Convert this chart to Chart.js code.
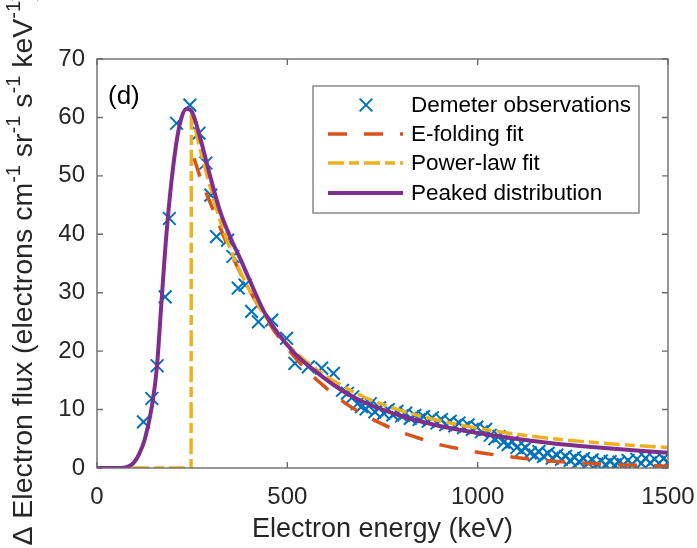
<!DOCTYPE html>
<html>
<head>
<meta charset="utf-8">
<script src="https://cdn.jsdelivr.net/npm/chart.js@4.4.0/dist/chart.umd.min.js"></script>
<style>
  html, body { margin: 0; padding: 0; background: #fff; }
  #wrap { width: 697px; height: 548px; }
</style>
</head>
<body>
<div id="wrap"><canvas id="chart" width="697" height="548"></canvas></div>
<script>
// Demeter observations (keV, flux)
const obsEnergy = [122, 144, 158, 179, 190, 209, 244, 268, 286, 299, 314, 343, 357, 371, 389, 406, 424, 459, 498, 520, 555, 590, 621, 645, 658,
  672, 684, 695, 707, 718, 730, 742, 753, 765, 777, 788, 800, 811, 823, 835, 846, 858, 870, 881, 893, 905, 916, 928, 940, 951, 963, 975, 986, 998,
  1010, 1021, 1033, 1045, 1056, 1068, 1080, 1091, 1103, 1115, 1126, 1138, 1150, 1161, 1173, 1185, 1196, 1208, 1220, 1231, 1243, 1255, 1266, 1278,
  1290, 1301, 1313, 1325, 1336, 1348, 1360, 1371, 1383, 1395, 1406, 1418, 1430, 1441, 1453, 1465, 1476, 1488, 1500];
const obsFlux = [7.9, 11.9, 17.5, 29.3, 42.7, 59.0, 62.1, 57.3, 52.2, 46.7, 39.6, 39.0, 36.2, 30.8, 31.3, 26.8, 25.0, 25.3, 22.2, 17.9, 17.3, 17.1, 16.2, 13.3, 12.8,
  12.2, 11.0, 10.5, 10.1, 11.0, 9.6, 10.3, 9.4, 10.0, 9.1, 9.7, 8.9, 9.4, 8.5, 9.0, 8.3, 8.8, 8.0, 8.6, 7.7, 8.3, 7.4, 8.0, 7.2, 7.7, 6.9, 7.4, 6.6, 7.0,
  6.2, 6.6, 5.6, 5.0, 5.4, 4.4, 4.0, 4.5, 3.5, 3.0, 3.5, 2.6, 2.2, 2.8, 2.0, 2.5, 1.7, 2.2, 1.5, 2.0, 1.3, 1.8, 1.1, 1.6,
  0.9, 1.4, 0.7, 1.2, 0.6, 1.1, 0.5, 1.0, 0.6, 1.3, 0.6, 1.5, 0.8, 1.7, 0.9, 1.5, 0.8, 1.6, 1.0];

// E-folding fit
const efoldEnergy = [255, 275, 300, 350, 400, 450, 500, 550, 600, 650, 700, 750, 800, 850, 900, 950, 1000, 1100, 1200, 1300, 1400, 1500];
const efoldFlux = [53, 49, 45, 37, 30.5, 25, 20.5, 16.8, 13.8, 11.2, 9.2, 7.5, 6.1, 5.0, 4.0, 3.3, 2.7, 1.8, 1.15, 0.75, 0.5, 0.3];

// Power-law fit
const powerEnergy = [0, 247, 248, 260, 275, 300, 325, 350, 375, 400, 450, 500, 550, 600, 700, 800, 900, 1000, 1100, 1200, 1300, 1400, 1500];
const powerFlux = [0, 0, 61, 57.5, 53.5, 47.5, 42, 37.5, 33.8, 30.5, 25.2, 21.2, 18.2, 15.8, 12.2, 9.8, 8.1, 6.8, 5.8, 5.0, 4.4, 3.9, 3.5];

// Peaked distribution
const peakEnergy = [0, 60, 80, 95, 110, 126, 144, 157, 170, 183, 200, 218, 236, 249, 271, 297, 323, 350, 375, 402, 441, 511, 581, 650, 700, 800, 900, 1000, 1100, 1200, 1300, 1400, 1500];
const peakFlux = [0, 0, 0.2, 0.8, 2.3, 5, 10.5, 17, 29, 40.5, 51.5, 59, 61.5, 61, 56.5, 50, 44, 39.5, 36, 32, 26.5, 20.2, 16.2, 13.0, 11.3, 8.9, 7.2, 6.0, 5.0, 4.2, 3.6, 3.1, 2.6];

const xTicks = [0, 500, 1000, 1500];
const yTicks = [0, 10, 20, 30, 40, 50, 60, 70];

const seriesNames = ['Demeter observations', 'E-folding fit', 'Power-law fit', 'Peaked distribution'];

const BLUE = '#0072BD';
const ORANGE = '#D95319';
const YELLOW = '#EDB120';
const PURPLE = '#7E2F8E';
const TEXT = '#262626';
const AXIS = '#6b6b6b';
const FONT = '"Liberation Sans", Arial, Helvetica, sans-serif';

const DASH_E = [19, 17];
const DASH_P = [16, 5, 10, 5];

function zip(xs, ys) {
  return xs.map((x, i) => ({ x: x, y: ys[i] }));
}

// MATLAB style box with inward ticks
const boxPlugin = {
  id: 'matlabBox',
  afterDatasetsDraw(chart) {
    const ctx = chart.ctx;
    const a = chart.chartArea;
    const xs = chart.scales.x, ys = chart.scales.y;
    const tl = 6;
    ctx.save();
    ctx.strokeStyle = AXIS;
    ctx.lineWidth = 1.4;
    ctx.strokeRect(a.left, a.top, a.right - a.left, a.bottom - a.top);
    ctx.beginPath();
    xTicks.forEach(v => {
      const px = xs.getPixelForValue(v);
      ctx.moveTo(px, a.bottom); ctx.lineTo(px, a.bottom - tl);
      ctx.moveTo(px, a.top); ctx.lineTo(px, a.top + tl);
    });
    yTicks.forEach(v => {
      const py = ys.getPixelForValue(v);
      ctx.moveTo(a.left, py); ctx.lineTo(a.left + tl, py);
      ctx.moveTo(a.right, py); ctx.lineTo(a.right - tl, py);
    });
    ctx.stroke();
    ctx.restore();
  },
  afterDraw(chart) {
    const ctx = chart.ctx;
    const a = chart.chartArea;
    ctx.save();

    // panel tag
    ctx.fillStyle = '#000';
    ctx.font = '26px ' + FONT;
    ctx.textAlign = 'left';
    ctx.textBaseline = 'middle';
    ctx.fillText('(d)', a.left + 11, a.top + 38);

    // y axis title with superscripts
    const parts = [['\u0394 Electron flux (electrons cm', false], ['-1', true], [' sr', false], ['-1', true],
      [' s', false], ['-1', true], [' keV', false], ['-1', true], [')', false]];
    const mainFont = '28.5px ' + FONT, supFont = '20px ' + FONT;
    let total = 0;
    parts.forEach(p => { ctx.font = p[1] ? supFont : mainFont; total += ctx.measureText(p[0]).width; });
    ctx.translate(32, (a.top + a.bottom) / 2 + 5);
    ctx.rotate(-Math.PI / 2);
    ctx.fillStyle = TEXT;
    ctx.textBaseline = 'alphabetic';
    let x = -total / 2;
    parts.forEach(p => {
      ctx.font = p[1] ? supFont : mainFont;
      ctx.fillText(p[0], x, p[1] ? -12 : 0);
      x += ctx.measureText(p[0]).width;
    });
    ctx.restore();

    // legend box
    ctx.save();
    const L = 313, T = 86, R = 639, B = 213;
    ctx.fillStyle = '#fff';
    ctx.fillRect(L, T, R - L, B - T);
    ctx.strokeStyle = '#777';
    ctx.lineWidth = 1.3;
    ctx.strokeRect(L, T, R - L, B - T);
    const rows = [105, 134, 163, 193];
    const x0 = 328, x1 = 403;
    // marker row
    ctx.strokeStyle = BLUE;
    ctx.lineWidth = 2;
    const r = 9 * Math.SQRT1_2;
    ctx.beginPath();
    ctx.moveTo(366 - r, rows[0] - r); ctx.lineTo(366 + r, rows[0] + r);
    ctx.moveTo(366 - r, rows[0] + r); ctx.lineTo(366 + r, rows[0] - r);
    ctx.stroke();
    const lineRows = [[ORANGE, DASH_E, 3.5], [YELLOW, DASH_P, 3.5], [PURPLE, [], 4]];
    lineRows.forEach((s, i) => {
      ctx.strokeStyle = s[0];
      ctx.setLineDash(s[1]);
      ctx.lineWidth = s[2];
      ctx.beginPath();
      ctx.moveTo(x0, rows[i + 1]); ctx.lineTo(x1, rows[i + 1]);
      ctx.stroke();
    });
    ctx.setLineDash([]);
    ctx.fillStyle = '#000';
    ctx.font = '22.5px ' + FONT;
    ctx.textAlign = 'left';
    ctx.textBaseline = 'middle';
    seriesNames.forEach((n, i) => ctx.fillText(n, 411, rows[i] + 1));
    ctx.restore();
  }
};

new Chart(document.getElementById('chart'), {
  type: 'scatter',
  data: {
    datasets: [
      {
        label: seriesNames[3],
        data: zip(peakEnergy, peakFlux),
        showLine: true,
        borderColor: PURPLE,
        borderWidth: 4,
        pointRadius: 0,
        cubicInterpolationMode: 'monotone',
        order: 1
      },
      {
        label: seriesNames[2],
        data: zip(powerEnergy, powerFlux),
        showLine: true,
        borderColor: YELLOW,
        borderWidth: 3.5,
        borderDash: DASH_P,
        pointRadius: 0,
        cubicInterpolationMode: 'monotone',
        order: 2
      },
      {
        label: seriesNames[1],
        data: zip(efoldEnergy, efoldFlux),
        showLine: true,
        borderColor: ORANGE,
        borderWidth: 3.5,
        borderDash: DASH_E,
        pointRadius: 0,
        cubicInterpolationMode: 'monotone',
        order: 3
      },
      {
        label: seriesNames[0],
        data: zip(obsEnergy, obsFlux),
        showLine: false,
        pointStyle: 'crossRot',
        pointRadius: 9,
        pointBorderWidth: 2,
        pointBorderColor: BLUE,
        pointBackgroundColor: BLUE,
        order: 4
      }
    ]
  },
  options: {
    responsive: false,
    animation: false,
    layout: { padding: { left: 0, top: 59, right: 29, bottom: 0 } },
    plugins: {
      legend: { display: false },
      tooltip: { enabled: false }
    },
    scales: {
      x: {
        type: 'linear',
        min: 0,
        max: 1500,
        afterFit: s => { s.height = 80; s.paddingLeft = 0; s.paddingRight = 0; },
        afterBuildTicks: s => { s.ticks = xTicks.map(v => ({ value: v })); },
        grid: { display: false, drawTicks: false },
        border: { display: false },
        ticks: {
          padding: 15,
          color: TEXT,
          maxRotation: 0,
          callback: v => String(v),
          font: { family: FONT, size: 24 }
        },
        title: {
          display: true,
          text: 'Electron energy (keV)',
          color: TEXT,
          font: { family: FONT, size: 27 },
          padding: { top: 4, bottom: 2 }
        }
      },
      y: {
        type: 'linear',
        min: 0,
        max: 70,
        afterFit: s => { s.width = 97; s.paddingTop = 0; s.paddingBottom = 0; },
        afterBuildTicks: s => { s.ticks = yTicks.map(v => ({ value: v })); },
        grid: { display: false, drawTicks: false },
        border: { display: false },
        ticks: {
          padding: 12,
          color: TEXT,
          callback: v => String(v),
          font: { family: FONT, size: 24 }
        }
      }
    }
  },
  plugins: [boxPlugin]
});
</script>
</body>
</html>
